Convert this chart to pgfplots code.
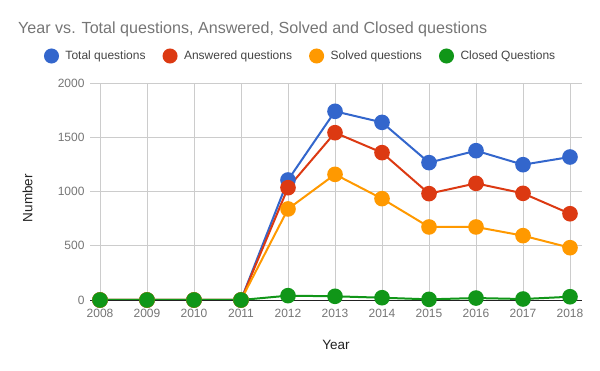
\documentclass[border=0pt]{standalone}
\usepackage{fontspec}
\setmainfont{Liberation Sans}
\usepackage{pgfplots}
\pgfplotsset{compat=1.18}
\definecolor{cBlue}{HTML}{3366CC}
\definecolor{cRed}{HTML}{DC3912}
\definecolor{cOrange}{HTML}{FF9900}
\definecolor{cGreen}{HTML}{109618}
\definecolor{titlegray}{HTML}{757575}
\definecolor{labelgray}{HTML}{757575}
\definecolor{legendgray}{HTML}{444444}
\definecolor{axisdark}{HTML}{222222}
\definecolor{gridgray}{HTML}{CCCCCC}
\begin{document}
\begin{tikzpicture}
\path[use as bounding box] (0pt,0pt) rectangle (600pt,371pt);
\node[anchor=base west, inner sep=0pt, text=titlegray, font=\fontsize{16.1}{19}\selectfont] at (18pt,337pt) {Year vs. Total questions, Answered, Solved and Closed questions};
\begin{axis}[
  at={(90pt,71pt)}, anchor=south west,
  scale only axis, width=492pt, height=217pt,
  xmin=2007.787, xmax=2018.255, ymin=0, ymax=2000,
  axis x line*=bottom, axis y line*=left,
  x axis line style={draw=axisdark, line width=0.8pt, -},
  y axis line style={draw=none},
  grid=major,
  major grid style={draw=gridgray, line width=0.8pt},
  major tick length=0pt,
  xtick={2008,2009,...,2018},
  ytick={0,500,1000,1500,2000},
  /pgf/number format/assume math mode=true,
  x tick label style={/pgf/number format/1000 sep={}, yshift=-6pt},
  y tick label style={/pgf/number format/1000 sep={}, xshift=-2pt},
  tick label style={font=\fontsize{12}{14}\selectfont, text=labelgray},
  xlabel={Year}, ylabel={Number},
  label style={font=\fontsize{13.5}{16}\selectfont, text=axisdark},
  xlabel style={at={(axis description cs:0.5,-0.207)}, anchor=center},
  ylabel style={at={(axis description cs:-0.127,0.47)}, anchor=center},
  legend columns=4,
  legend style={draw=none, fill=none, inner sep=0pt, outer sep=0pt,
    at={(axis description cs:-0.0935,1.1244)}, anchor=west,
    font=\fontsize{12}{14}\selectfont, text=legendgray,
    nodes={inner sep=0pt},
    /tikz/every even column/.append style={column sep=17pt}},
  legend image code/.code={\path[draw=none,fill=none] (-6.5pt,0pt) -- (14pt,0pt); \fill[#1] (0pt,0pt) circle (6.5pt);},
  every axis plot/.append style={line width=2pt, mark=*, mark size=6.8pt},
]
\addplot[color=cBlue] coordinates {(2008,0) (2009,0) (2010,0) (2011,0) (2012,1106) (2013,1739) (2014,1637) (2015,1266) (2016,1376) (2017,1247) (2018,1318)};
\addlegendentry{Total questions}
\addplot[color=cRed] coordinates {(2008,0) (2009,0) (2010,0) (2011,0) (2012,1035) (2013,1542) (2014,1358) (2015,980) (2016,1075) (2017,983) (2018,795)};
\addlegendentry{Answered questions}
\addplot[color=cOrange] coordinates {(2008,0) (2009,0) (2010,0) (2011,0) (2012,839) (2013,1158) (2014,934) (2015,673) (2016,673) (2017,593) (2018,482)};
\addlegendentry{Solved questions}
\addplot[color=cGreen] coordinates {(2008,0) (2009,0) (2010,0) (2011,0) (2012,40) (2013,34) (2014,21) (2015,6) (2016,18) (2017,9) (2018,30)};
\addlegendentry{Closed Questions}
\end{axis}
\end{tikzpicture}
\end{document}
